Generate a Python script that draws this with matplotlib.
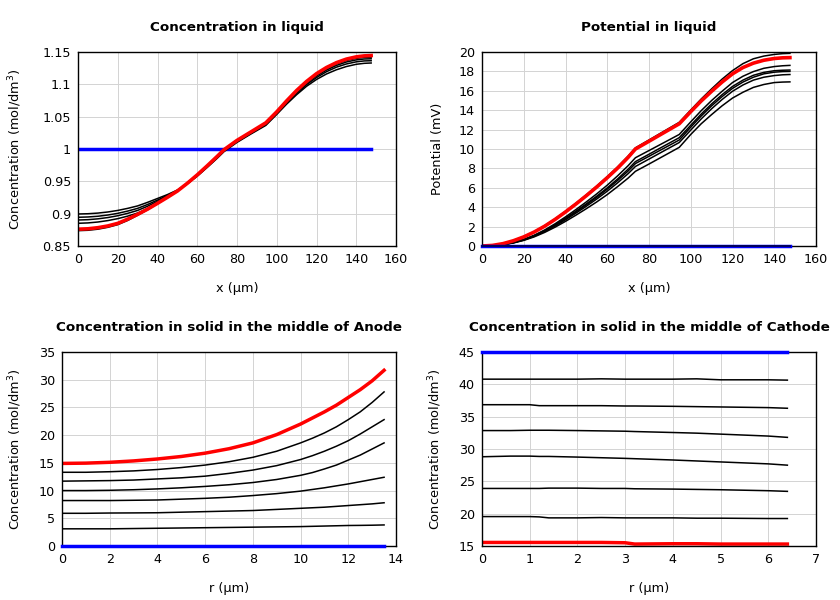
import matplotlib
matplotlib.use("Agg")
import matplotlib.pyplot as plt
from matplotlib.ticker import FormatStrFormatter

plt.rcParams['font.family'] = ['DejaVu Sans']

# positions along the cell (um), used by both top plots
x_liq = [0, 5, 10, 15, 20, 25, 30, 35, 40, 45, 50, 55, 60, 65, 70, 73.5, 80, 87, 94.5,
         100, 105, 110, 115, 120, 125, 130, 135, 140, 144, 147.5]

# concentration in liquid (mol/dm3)
c_liq_init = [1.0] * len(x_liq)
c_liq_black = [
    [0.8995, 0.8999, 0.9009, 0.9026, 0.905, 0.9082, 0.912, 0.9175, 0.9235, 0.9295, 0.9365, 0.9465, 0.958, 0.9715, 0.9855,
     0.996, 1.0102, 1.0232, 1.0365, 1.0535, 1.0695, 1.084, 1.097, 1.1075, 1.116, 1.1225, 1.1275, 1.131, 1.1325, 1.133],
    [0.8944, 0.8949, 0.896, 0.8979, 0.9005, 0.904, 0.9082, 0.9142, 0.921, 0.928, 0.936, 0.9463, 0.9585, 0.9722, 0.9865,
     0.997, 1.0112, 1.0242, 1.0378, 1.0548, 1.0712, 1.086, 1.0995, 1.1105, 1.1195, 1.1265, 1.1315, 1.1348, 1.1362, 1.1365],
    [0.8902, 0.8907, 0.892, 0.894, 0.8968, 0.9005, 0.905, 0.9115, 0.919, 0.927, 0.9357, 0.9463, 0.9588, 0.9728, 0.9872,
     0.9978, 1.012, 1.025, 1.0388, 1.0558, 1.0725, 1.0878, 1.1015, 1.1128, 1.122, 1.1292, 1.1345, 1.1378, 1.1392, 1.1395],
    [0.8851, 0.8857, 0.8871, 0.8893, 0.8923, 0.8962, 0.901, 0.908, 0.9165, 0.9258, 0.9355, 0.9465, 0.9592, 0.9733, 0.9878,
     0.9984, 1.0127, 1.0258, 1.0396, 1.0566, 1.0735, 1.089, 1.103, 1.1146, 1.124, 1.1315, 1.1368, 1.1402, 1.1417, 1.142],
    [0.8737, 0.8743, 0.876, 0.8789, 0.883, 0.8895, 0.8975, 0.906, 0.9155, 0.925, 0.935, 0.947, 0.9598, 0.9738, 0.9882,
     0.9988, 1.013, 1.0261, 1.04, 1.057, 1.074, 1.0898, 1.1038, 1.1158, 1.1252, 1.1328, 1.1382, 1.1418, 1.1433, 1.1436],
]
c_liq_final = [0.876, 0.8766, 0.8783, 0.881, 0.885, 0.8915, 0.899, 0.907, 0.916, 0.9253, 0.935, 0.947, 0.96, 0.974, 0.9885,
               0.999, 1.0133, 1.0264, 1.0405, 1.0575, 1.0745, 1.0905, 1.1045, 1.1165, 1.126, 1.1335, 1.139, 1.1425, 1.144, 1.1445]

# potential in liquid (mV)
pot_init = [0.0] * len(x_liq)
pot_black = [
    [0, 0.06, 0.25, 0.56, 0.97, 1.48, 2.09, 2.8, 3.58, 4.41, 5.28, 6.19, 7.15, 8.16, 9.27,
     10.12, 10.93, 11.81, 12.75, 14.02, 15.15, 16.2, 17.2, 18.08, 18.8, 19.3, 19.58, 19.75, 19.83, 19.86],
    [0, 0.04, 0.15, 0.37, 0.68, 1.11, 1.65, 2.29, 3.0, 3.76, 4.55, 5.38, 6.27, 7.24, 8.28,
     9.1, 9.84, 10.64, 11.5, 12.8, 13.95, 15.0, 15.95, 16.85, 17.5, 17.98, 18.32, 18.5, 18.58, 18.62],
    [0, 0.04, 0.14, 0.35, 0.65, 1.06, 1.58, 2.19, 2.87, 3.59, 4.35, 5.14, 5.99, 6.92, 7.92,
     8.7, 9.46, 10.29, 11.17, 12.45, 13.6, 14.65, 15.6, 16.45, 17.1, 17.6, 17.9, 18.07, 18.12, 18.14],
    [0, 0.04, 0.14, 0.35, 0.64, 1.04, 1.54, 2.14, 2.8, 3.51, 4.25, 5.02, 5.86, 6.76, 7.73,
     8.5, 9.25, 10.06, 10.93, 12.25, 13.4, 14.45, 15.4, 16.25, 16.9, 17.4, 17.75, 17.92, 17.98, 18.0],
    [0, 0.04, 0.14, 0.33, 0.61, 1.0, 1.49, 2.06, 2.7, 3.39, 4.1, 4.85, 5.65, 6.52, 7.46,
     8.2, 8.96, 9.79, 10.67, 11.95, 13.1, 14.15, 15.1, 15.95, 16.6, 17.1, 17.4, 17.57, 17.65, 17.68],
    [0, 0.03, 0.13, 0.31, 0.58, 0.94, 1.4, 1.94, 2.54, 3.18, 3.85, 4.55, 5.3, 6.13, 7.0,
     7.7, 8.45, 9.28, 10.17, 11.5, 12.6, 13.55, 14.45, 15.25, 15.85, 16.35, 16.65, 16.85, 16.9, 16.92],
]
pot_final = [0, 0.06, 0.24, 0.54, 0.94, 1.44, 2.04, 2.74, 3.51, 4.33, 5.19, 6.09, 7.04, 8.04, 9.14,
             10.0, 10.8, 11.67, 12.6, 13.85, 14.95, 15.95, 16.9, 17.75, 18.4, 18.85, 19.15, 19.33, 19.4, 19.42]

# concentration in solid, anode (r in um)
r_an = [0, 1, 2, 3, 4, 5, 6, 7, 8, 9, 10, 10.5, 11, 11.5, 12, 12.5, 13, 13.5]
c_an_init = [0.0] * len(r_an)
c_an_black = [
    [13.3, 13.3, 13.4, 13.55, 13.8, 14.15, 14.6, 15.2, 16.0, 17.1, 18.6, 19.45, 20.4, 21.5, 22.8, 24.2, 25.9, 27.8],
    [11.7, 11.75, 11.8, 11.9, 12.1, 12.3, 12.6, 13.1, 13.7, 14.5, 15.6, 16.3, 17.1, 18.0, 19.0, 20.2, 21.5, 22.8],
    [10.0, 10.0, 10.05, 10.15, 10.3, 10.5, 10.75, 11.05, 11.45, 12.0, 12.75, 13.25, 13.9, 14.6, 15.5, 16.4, 17.5, 18.6],
    [8.2, 8.2, 8.2, 8.25, 8.3, 8.45, 8.6, 8.8, 9.1, 9.45, 9.9, 10.2, 10.5, 10.85, 11.2, 11.6, 12.0, 12.4],
    [5.9, 5.9, 5.95, 5.97, 6.0, 6.1, 6.2, 6.3, 6.4, 6.6, 6.8, 6.9, 7.0, 7.15, 7.3, 7.45, 7.6, 7.8],
    [3.1, 3.1, 3.1, 3.15, 3.2, 3.25, 3.3, 3.35, 3.4, 3.45, 3.5, 3.55, 3.6, 3.65, 3.7, 3.72, 3.75, 3.8],
]
c_an_final = [14.9, 14.95, 15.1, 15.35, 15.7, 16.15, 16.75, 17.55, 18.6, 20.1, 22.0, 23.1, 24.2, 25.4, 26.8, 28.2, 29.8, 31.7]

# concentration in solid, cathode (r in um)
r_ca = [0, 0.6, 1.0, 1.2, 1.4, 2, 2.5, 3, 3.2, 4, 4.5, 5, 6, 6.4]
c_ca_init = [45.0] * len(r_ca)
c_ca_black = [
    [40.8, 40.8, 40.8, 40.8, 40.8, 40.8, 40.85, 40.8, 40.8, 40.8, 40.85, 40.7, 40.7, 40.65],
    [36.85, 36.85, 36.85, 36.7, 36.7, 36.7, 36.7, 36.65, 36.65, 36.6, 36.55, 36.5, 36.4, 36.3],
    [32.85, 32.85, 32.9, 32.9, 32.9, 32.85, 32.8, 32.75, 32.7, 32.55, 32.45, 32.3, 32.0, 31.8],
    [28.8, 28.9, 28.9, 28.85, 28.85, 28.75, 28.65, 28.55, 28.5, 28.3, 28.15, 28.0, 27.7, 27.5],
    [23.9, 23.9, 23.9, 23.9, 23.95, 23.95, 23.9, 23.9, 23.85, 23.8, 23.75, 23.7, 23.55, 23.45],
    [19.55, 19.55, 19.55, 19.5, 19.35, 19.35, 19.4, 19.35, 19.35, 19.35, 19.3, 19.3, 19.25, 19.25],
]
c_ca_final = [15.55, 15.55, 15.55, 15.55, 15.55, 15.55, 15.55, 15.5, 15.3, 15.35, 15.35, 15.3, 15.3, 15.3]

fig = plt.figure(figsize=(8.4, 6), dpi=100)

# axes boxes in pixels (left, top, width) -> figure fractions
ax1 = fig.add_axes([78/840, 1-246/600, 318/840, 194/600])
ax2 = fig.add_axes([482/840, 1-246/600, 334/840, 194/600])
ax3 = fig.add_axes([62/840, 1-546/600, 334/840, 194/600])
ax4 = fig.add_axes([482/840, 1-546/600, 334/840, 194/600])

ylab_c = 'Concentration (mol/dm$^3$)'


def style(ax, title, xlabel, ylabel, left_px, width_px, label_px):
    ax.set_title(title, fontsize=9.7, fontweight='bold', pad=15)
    ax.set_xlabel(xlabel, fontsize=9.3)
    ax.set_ylabel(ylabel, fontsize=9.3)
    ax.xaxis.set_label_coords(0.5, -36/194)
    ax.yaxis.set_label_coords((label_px - left_px) / width_px, 0.5)
    ax.grid(True, color='#d3d3d3', linewidth=0.7)
    ax.set_axisbelow(True)
    ax.tick_params(length=0, labelsize=9.2, pad=5)
    for s in ax.spines.values():
        s.set_linewidth(1.0)
        s.set_color('black')


# top left
ax1.plot(x_liq, c_liq_init, color='#0000ff', lw=2.5)
for y in c_liq_black:
    ax1.plot(x_liq, y, color='black', lw=1.1)
ax1.plot(x_liq, c_liq_final, color='red', lw=2.6)
ax1.set_xlim(0, 160)
ax1.set_ylim(0.85, 1.15)
ax1.set_xticks(range(0, 161, 20))
ax1.set_yticks([0.85, 0.9, 0.95, 1, 1.05, 1.1, 1.15])
ax1.yaxis.set_major_formatter(FormatStrFormatter('%g'))
style(ax1, 'Concentration in liquid', 'x (µm)', ylab_c, 78, 318, 24)

# top right
ax2.plot(x_liq, pot_init, color='#0000ff', lw=2.5, clip_on=False, zorder=3)
for y in pot_black:
    ax2.plot(x_liq, y, color='black', lw=1.1)
ax2.plot(x_liq, pot_final, color='red', lw=2.6)
ax2.plot(x_liq, pot_init, color='#000040', lw=1.2, clip_on=False, zorder=3)
ax2.set_xlim(0, 160)
ax2.set_ylim(0, 20)
ax2.set_xticks(range(0, 161, 20))
ax2.set_yticks(range(0, 21, 2))
style(ax2, 'Potential in liquid', 'x (µm)', 'Potential (mV)', 482, 334, 444)

# bottom left
ax3.plot(r_an, c_an_init, color='#0000ff', lw=2.5, clip_on=False, zorder=3)
for y in c_an_black:
    ax3.plot(r_an, y, color='black', lw=1.1)
ax3.plot(r_an, c_an_final, color='red', lw=2.5)
ax3.set_xlim(0, 14)
ax3.set_ylim(0, 35)
ax3.set_xticks(range(0, 15, 2))
ax3.set_yticks(range(0, 36, 5))
style(ax3, 'Concentration in solid in the middle of Anode', 'r (µm)', ylab_c, 62, 334, 24)

# bottom right
ax4.plot(r_ca, c_ca_init, color='#0000ff', lw=2.5, clip_on=False, zorder=3)
for y in c_ca_black:
    ax4.plot(r_ca, y, color='black', lw=1.1)
ax4.plot(r_ca, c_ca_final, color='red', lw=2.5)
ax4.set_xlim(0, 7)
ax4.set_ylim(15, 45)
ax4.set_xticks(range(0, 8))
ax4.set_yticks(range(15, 46, 5))
style(ax4, 'Concentration in solid in the middle of Cathode', 'r (µm)', ylab_c, 482, 334, 444)

fig.savefig('out.png', dpi=100)
